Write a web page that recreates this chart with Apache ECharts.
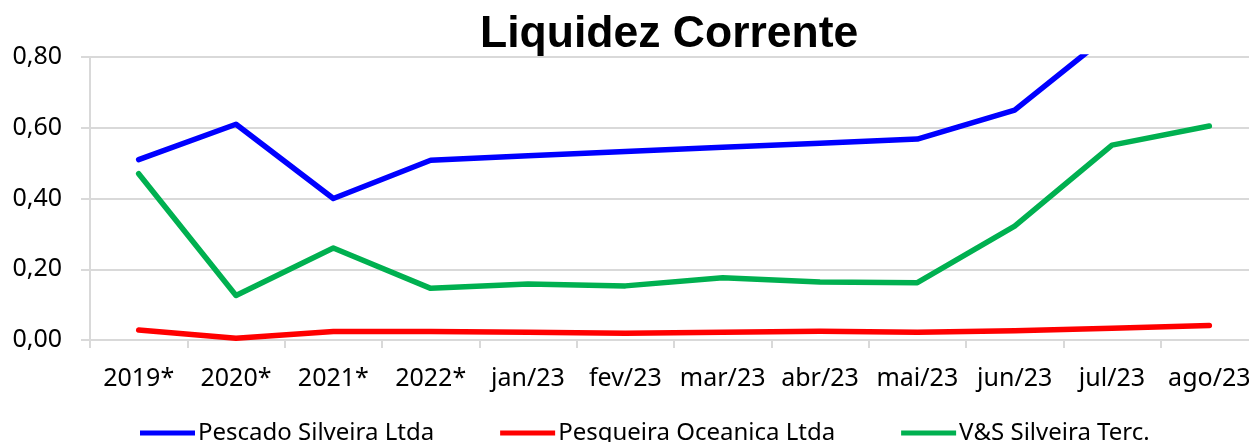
<!DOCTYPE html>
<html>
<head>
<meta charset="utf-8">
<script src="https://cdn.jsdelivr.net/npm/echarts@6/dist/echarts.min.js"></script>
<style>
html,body{margin:0;padding:0;background:#fff;}
#chart{width:1249px;height:442px;}
</style>
</head>
<body>
<div id="chart"></div>
<script>
const categories = ['2019*','2020*','2021*','2022*','jan/23','fev/23','mar/23','abr/23','mai/23','jun/23','jul/23','ago/23'];
const pescadoSilveira = [0.51,0.61,0.40,0.508,0.521,0.533,0.545,0.556,0.568,0.65,0.87,1.05];
const pesqueiraOceanica = [0.028,0.005,0.024,0.024,0.022,0.019,0.022,0.025,0.022,0.026,0.033,0.041];
const vsSilveira = [0.47,0.126,0.26,0.146,0.158,0.153,0.176,0.164,0.162,0.322,0.551,0.605];
const yTicks = [0,0.2,0.4,0.6,0.8];
const seriesNames = ['Pescado Silveira Ltda','Pesqueira Oceanica Ltda','V&S Silveira Terc.'];
const colors = ['#0000FF','#FF0000','#00B050'];

const chart = echarts.init(document.getElementById('chart'), null, {renderer:'canvas'});
const lineStyleFor = c => ({color:c, width:5.5, cap:'round', join:'round'});
chart.setOption({
  animation:false,
  title:{
    text:'Liquidez Corrente',
    left:480, top:12, padding:0,
    textStyle:{fontFamily:'Liberation Sans', fontWeight:'bold', fontSize:44.5, color:'#000'}
  },
  legend:{
    left:140, top:421, padding:0,
    itemWidth:55, itemHeight:5, itemGap:66,
    icon:'rect',
    textStyle:{fontFamily:'Noto Sans', fontSize:24, color:'#000', padding:[0,0,0,-2]},
    data:seriesNames
  },
  grid:{left:90, width:1168, top:57, bottom:102, containLabel:false, outerBoundsMode:'none'},
  xAxis:{
    type:'category', data:categories, boundaryGap:true,
    axisLine:{show:true, lineStyle:{color:'#d9d9d9', width:2}},
    axisTick:{show:true, length:8, lineStyle:{color:'#d9d9d9', width:2}},
    axisLabel:{fontFamily:'Noto Sans', fontSize:25, color:'#000', margin:26, interval:0}
  },
  yAxis:{
    type:'value', min:yTicks[0], max:yTicks[yTicks.length-1], interval:0.2,
    axisLine:{show:true, lineStyle:{color:'#d9d9d9', width:2}},
    axisTick:{show:true, length:9, lineStyle:{color:'#d9d9d9', width:2}},
    splitLine:{show:true, lineStyle:{color:'#d9d9d9', width:2}},
    axisLabel:{fontFamily:'Noto Sans', fontSize:25, color:'#000', margin:28,
      formatter:v=>v.toFixed(2).replace('.',',')}
  },
  series:[
    {name:seriesNames[0], type:'line', data:pescadoSilveira, showSymbol:false, color:colors[0], lineStyle:lineStyleFor(colors[0]), clip:true},
    {name:seriesNames[1], type:'line', data:pesqueiraOceanica, showSymbol:false, color:colors[1], lineStyle:lineStyleFor(colors[1]), clip:true},
    {name:seriesNames[2], type:'line', data:vsSilveira, showSymbol:false, color:colors[2], lineStyle:lineStyleFor(colors[2]), clip:true}
  ]
});
</script>
</body>
</html>
